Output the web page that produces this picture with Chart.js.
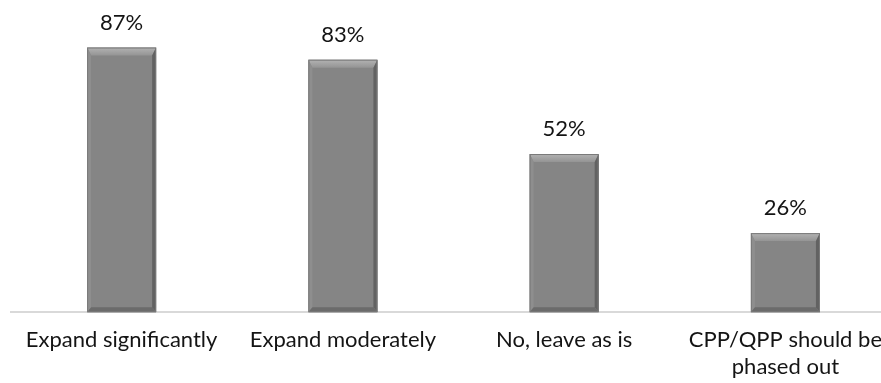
<!DOCTYPE html>
<html>
<head>
    <title>Expand CPP/QPP</title>
    <script src="https://cdn.jsdelivr.net/npm/chart.js"></script>
    <style>
        body {
            margin: 0;
            padding: 0;
            background-color: white;
            overflow: hidden;
        }
        /* the plot runs a little past the right edge of the picture */
        .chart-container {
            position: relative;
            width: 897px;
            height: 383px;
        }
    </style>
</head>
<body>
    <div class="chart-container">
        <canvas id="surveyChart"></canvas>
    </div>

    <script>
        const categories = [
            'Expand significantly',
            'Expand moderately',
            'No, leave as is',
            ['CPP/QPP should be', 'phased out']
        ];
        const percentages = [87, 83, 52, 26];
        const yRange = [0, 100];

        const FONT = 'Lato, "Open Sans", sans-serif';

        // bevelled look for the bars, drawn on top of each bar element
        const bevelPlugin = {
            id: 'bevel',
            afterDatasetsDraw(chart) {
                const ctx = chart.ctx;
                chart.getDatasetMeta(0).data.forEach(bar => {
                    const p = bar.getProps(['x', 'y', 'width', 'base'], true);
                    const L = p.x - p.width / 2, R = p.x + p.width / 2;
                    const T = p.y, B = p.base;
                    const s = 4, t = 8, b = 5;
                    ctx.save();

                    const topGrad = ctx.createLinearGradient(0, T, 0, T + t);
                    topGrad.addColorStop(0, '#b3b3b3');
                    topGrad.addColorStop(1, '#949494');
                    ctx.fillStyle = topGrad;
                    ctx.beginPath();
                    ctx.moveTo(L, T); ctx.lineTo(R, T); ctx.lineTo(R - s, T + t); ctx.lineTo(L + s, T + t);
                    ctx.closePath(); ctx.fill();

                    ctx.fillStyle = '#8e8e8e';
                    ctx.beginPath();
                    ctx.moveTo(L, T); ctx.lineTo(L + s, T + t); ctx.lineTo(L + s, B - b); ctx.lineTo(L, B);
                    ctx.closePath(); ctx.fill();

                    ctx.fillStyle = '#626262';
                    ctx.beginPath();
                    ctx.moveTo(R, T); ctx.lineTo(R, B); ctx.lineTo(R - s, B - b); ctx.lineTo(R - s, T + t);
                    ctx.closePath(); ctx.fill();

                    ctx.fillStyle = '#6b6b6b';
                    ctx.beginPath();
                    ctx.moveTo(L, B); ctx.lineTo(L + s, B - b); ctx.lineTo(R - s, B - b); ctx.lineTo(R, B);
                    ctx.closePath(); ctx.fill();

                    ctx.strokeStyle = '#7a7a7a';
                    ctx.lineWidth = 1;
                    ctx.strokeRect(L + 0.5, T + 0.5, R - L - 1, B - T - 1);
                    ctx.restore();
                });
            }
        };

        // percentage above each bar
        const valueLabels = {
            id: 'valueLabels',
            afterDatasetsDraw(chart) {
                const ctx = chart.ctx;
                const ds = chart.data.datasets[0];
                ctx.save();
                ctx.font = '22px ' + FONT;
                ctx.fillStyle = '#141414';
                ctx.textAlign = 'center';
                ctx.textBaseline = 'alphabetic';
                chart.getDatasetMeta(0).data.forEach((bar, i) => {
                    ctx.fillText(ds.data[i] + '%', bar.x, bar.y - 18);
                });
                ctx.restore();
            }
        };

        const ctx = document.getElementById('surveyChart').getContext('2d');
        new Chart(ctx, {
            type: 'bar',
            data: {
                labels: categories,
                datasets: [{
                    data: percentages,
                    backgroundColor: '#858585',
                    borderWidth: 0,
                    categoryPercentage: 1,
                    barPercentage: 0.312
                }]
            },
            options: {
                responsive: true,
                maintainAspectRatio: false,
                animation: false,
                layout: {
                    padding: { top: 8, left: 11, right: 0, bottom: -12 }
                },
                scales: {
                    y: {
                        display: false,
                        min: yRange[0],
                        max: yRange[1]
                    },
                    x: {
                        grid: { display: false, drawTicks: false },
                        border: { display: true, color: '#d9d9d9', width: 2 },
                        ticks: {
                            color: '#141414',
                            padding: 15,
                            maxRotation: 0,
                            autoSkip: false,
                            font: { family: FONT, size: 22 }
                        }
                    }
                },
                plugins: {
                    legend: { display: false },
                    tooltip: { enabled: false }
                }
            },
            plugins: [bevelPlugin, valueLabels]
        });
    </script>
</body>
</html>
